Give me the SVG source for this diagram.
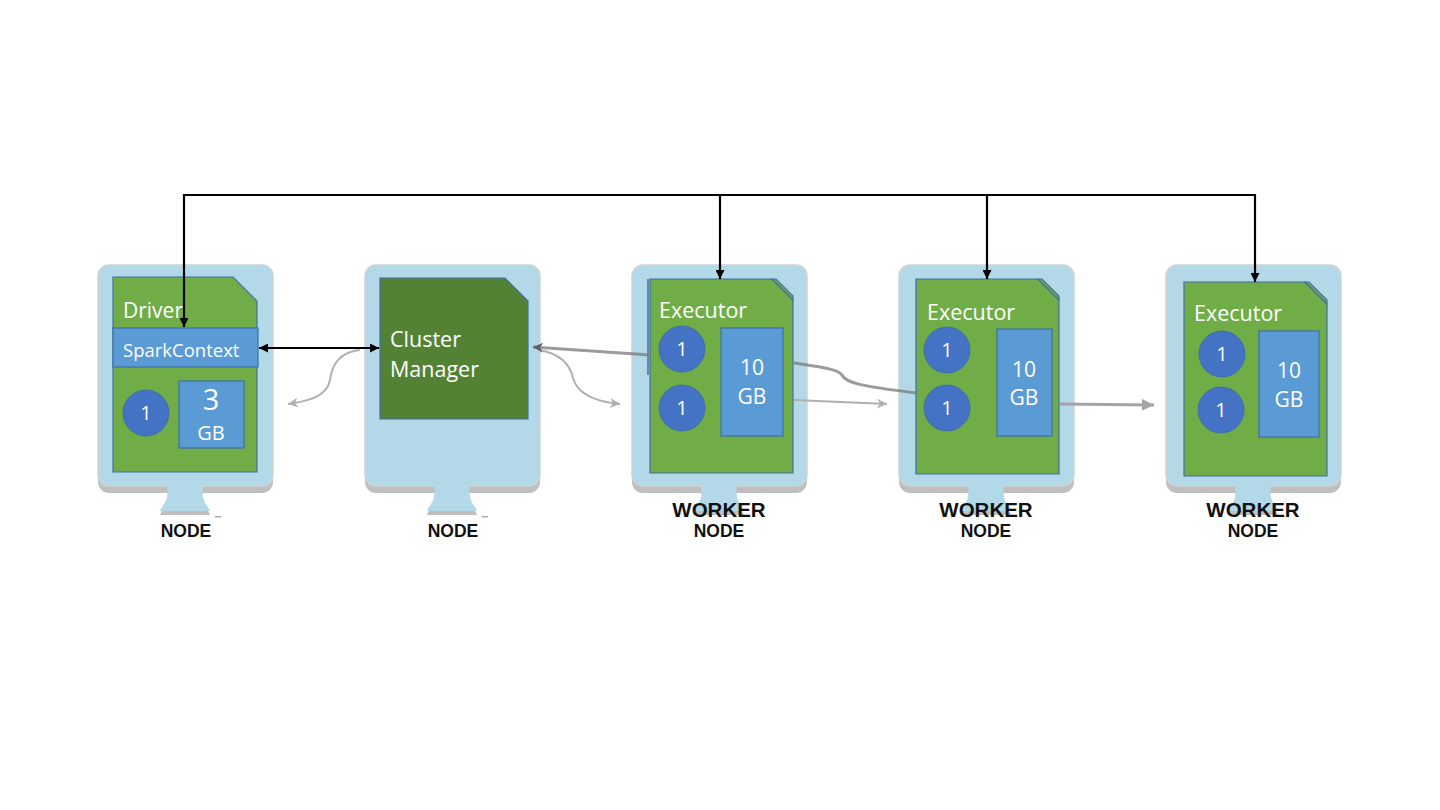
<svg xmlns="http://www.w3.org/2000/svg" width="1440" height="810" viewBox="0 0 1440 810">
<defs>
<style>
.mon{fill:#b3d9e8;stroke:#d2d2d2;stroke-width:1.5}
.monsh{fill:#bfbfbf}
.card{fill:#70ad47;stroke:#3f6fa8;stroke-width:1.2}
.cm{fill:#548235;stroke:#3f6fa8;stroke-width:1.2}
.blu{fill:#5b9bd5;stroke:#3f6fa8;stroke-width:1.2}
.core{fill:#4472c4;stroke:#3f6fa8;stroke-width:1}
.t{font-family:"Open Sans","Noto Sans",sans-serif;fill:#ffffff}
.lbl{font-family:"Liberation Sans",Arial,sans-serif;font-weight:bold;fill:#111111}
.blk{fill:none;stroke:#000000;stroke-width:2.2}
.gry{fill:none;stroke:#b0b0b0;stroke-width:2}
.dgry{fill:none;stroke:#7a7a7a;stroke-width:3;stroke-opacity:0.75}
</style>
<marker id="ab" viewBox="0 0 10 10" refX="10" refY="5" markerWidth="10" markerHeight="9" markerUnits="userSpaceOnUse" orient="auto-start-reverse"><path d="M0,0 L10,5 L0,10 Z" fill="#000"/></marker>
<marker id="ag" viewBox="0 0 10 10" refX="10" refY="5" markerWidth="11" markerHeight="10" markerUnits="userSpaceOnUse" orient="auto"><path d="M0,0 L10,5 L0,10 L3,5 Z" fill="#b0b0b0"/></marker>
<marker id="ag2" viewBox="0 0 10 10" refX="10" refY="5" markerWidth="13" markerHeight="12" markerUnits="userSpaceOnUse" orient="auto"><path d="M0,0 L10,5 L0,10 Z" fill="#a5a5a5"/></marker>
<marker id="ad" viewBox="0 0 10 10" refX="10" refY="5" markerWidth="12" markerHeight="10" markerUnits="userSpaceOnUse" orient="auto"><path d="M0,0 L10,5 L0,10 L3,5 Z" fill="#5f5f5f"/></marker>
<g id="monitor">
<rect class="monsh" x="0" y="6" width="175" height="222" rx="11"/>
<rect class="mon" x="0" y="0" width="175" height="221" rx="11"/>
<path class="monsh" d="M69,225 C72,239 64,244 62,250 H112 C110,244 102,239 105,225 Z"/>
<path fill="#b3d9e8" d="M69,221 C72,235 64,240 62,246 H112 C110,240 102,235 105,221 Z"/>
</g>
</defs>
<rect width="1440" height="810" fill="#ffffff"/>

<g id="node-driver">
<use href="#monitor" x="98" y="265"/>
<rect x="215" y="516" width="6" height="1.5" fill="#aaaaaa"/>
<path class="card" d="M113,277 H233 L257,301 V472 H113 Z"/>
<text class="t" x="123" y="318" font-size="21">Driver</text>
<rect class="blu" x="113" y="328" width="145" height="39"/>
<text class="t" x="123" y="357" font-size="18.5">SparkContext</text>
<circle class="core" cx="146" cy="413" r="23"/>
<text class="t" x="146" y="420" font-size="20" text-anchor="middle">1</text>
<rect class="blu" x="179" y="381" width="65" height="67"/>
<text class="t" x="211" y="410" font-size="29" text-anchor="middle">3</text>
<text class="t" x="211" y="440" font-size="20" text-anchor="middle">GB</text>
<text class="lbl" x="186" y="537" font-size="17.5" text-anchor="middle">NODE</text>
</g>

<g id="node-cluster-manager">
<use href="#monitor" x="365" y="265"/>
<rect x="482" y="516" width="6" height="1.5" fill="#aaaaaa"/>
<path class="cm" d="M380,278 H505 L528,301 V419 H380 Z"/>
<text class="t" x="390" y="347" font-size="21.5">Cluster</text>
<text class="t" x="390" y="377" font-size="21.5">Manager</text>
<text class="lbl" x="453" y="537" font-size="17.5" text-anchor="middle">NODE</text>
</g>

<g id="node-worker-1">
<use href="#monitor" x="632" y="265"/>
<line x1="648" y1="279" x2="648" y2="375" stroke="#3f6fa8" stroke-width="1.5"/>
<path class="card" d="M650,279 H772 L793,300 V473 H650 Z"/>
<path class="card" d="M772,279 H776 L793,296 V300 Z"/>
<text class="t" x="659" y="318" font-size="21.5">Executor</text>
<circle class="core" cx="682" cy="349" r="23"/>
<text class="t" x="682" y="356" font-size="20" text-anchor="middle">1</text>
<circle class="core" cx="682" cy="408" r="23"/>
<text class="t" x="682" y="415" font-size="20" text-anchor="middle">1</text>
<rect class="blu" x="721" y="328" width="62" height="108"/>
<text class="t" x="752" y="375" font-size="21" text-anchor="middle">10</text>
<text class="t" x="752" y="404" font-size="21" text-anchor="middle">GB</text>
<text class="lbl" x="719" y="517" font-size="20.5" text-anchor="middle">WORKER</text>
<text class="lbl" x="719" y="537" font-size="17.5" text-anchor="middle">NODE</text>
</g>

<g id="node-worker-2">
<use href="#monitor" x="899" y="265"/>
<path class="card" d="M916,279 H1038 L1059,300 V474 H916 Z"/>
<path class="card" d="M1038,279 H1042 L1059,296 V300 Z"/>
<text class="t" x="927" y="320" font-size="21.5">Executor</text>
<circle class="core" cx="947" cy="350" r="23"/>
<text class="t" x="947" y="357" font-size="20" text-anchor="middle">1</text>
<circle class="core" cx="947" cy="408" r="23"/>
<text class="t" x="947" y="415" font-size="20" text-anchor="middle">1</text>
<rect class="blu" x="997" y="329" width="55" height="107"/>
<text class="t" x="1024" y="377" font-size="21" text-anchor="middle">10</text>
<text class="t" x="1024" y="405" font-size="21" text-anchor="middle">GB</text>
<text class="lbl" x="986" y="517" font-size="20.5" text-anchor="middle">WORKER</text>
<text class="lbl" x="986" y="537" font-size="17.5" text-anchor="middle">NODE</text>
</g>

<g id="node-worker-3">
<use href="#monitor" x="1166" y="265"/>
<path class="card" d="M1184,282 H1305 L1327,304 V476 H1184 Z"/>
<path class="card" d="M1305,282 H1309 L1327,300 V304 Z"/>
<text class="t" x="1194" y="321" font-size="21.5">Executor</text>
<circle class="core" cx="1222" cy="354" r="23"/>
<text class="t" x="1222" y="361" font-size="20" text-anchor="middle">1</text>
<circle class="core" cx="1221" cy="410" r="23"/>
<text class="t" x="1221" y="417" font-size="20" text-anchor="middle">1</text>
<rect class="blu" x="1259" y="331" width="60" height="106"/>
<text class="t" x="1289" y="378" font-size="21" text-anchor="middle">10</text>
<text class="t" x="1289" y="407" font-size="21" text-anchor="middle">GB</text>
<text class="lbl" x="1253" y="517" font-size="20.5" text-anchor="middle">WORKER</text>
<text class="lbl" x="1253" y="537" font-size="17.5" text-anchor="middle">NODE</text>
</g>

<g id="connectors">
<path class="blk" d="M184,195 H1255"/>
<path class="blk" d="M184,194 V327" marker-end="url(#ab)"/>
<path class="blk" d="M720,195 V279" marker-end="url(#ab)"/>
<path class="blk" d="M987,195 V279" marker-end="url(#ab)"/>
<path class="blk" d="M1255,194 V282" marker-end="url(#ab)"/>
<path class="blk" d="M259,348 H379" marker-start="url(#ab)" marker-end="url(#ab)"/>
<path class="gry" d="M360,350 C340,352 332,364 330,380 C327,396 310,401 288,404" marker-end="url(#ag)"/>
<path class="gry" d="M540,350 C560,354 570,364 573,378 C578,396 598,402 620,404" marker-end="url(#ag)"/>
<path class="dgry" d="M650,355 L533,347" marker-end="url(#ad)"/>
<path class="dgry" d="M794,363 C820,367 838,369 842,375 C846,383 860,386 916,393"/>
<path class="gry" d="M794,400 L887,404" marker-end="url(#ag)"/>
<path fill="none" stroke="#a5a5a5" stroke-width="3" d="M1060,404 L1154,405" marker-end="url(#ag2)"/>
</g>
</svg>
